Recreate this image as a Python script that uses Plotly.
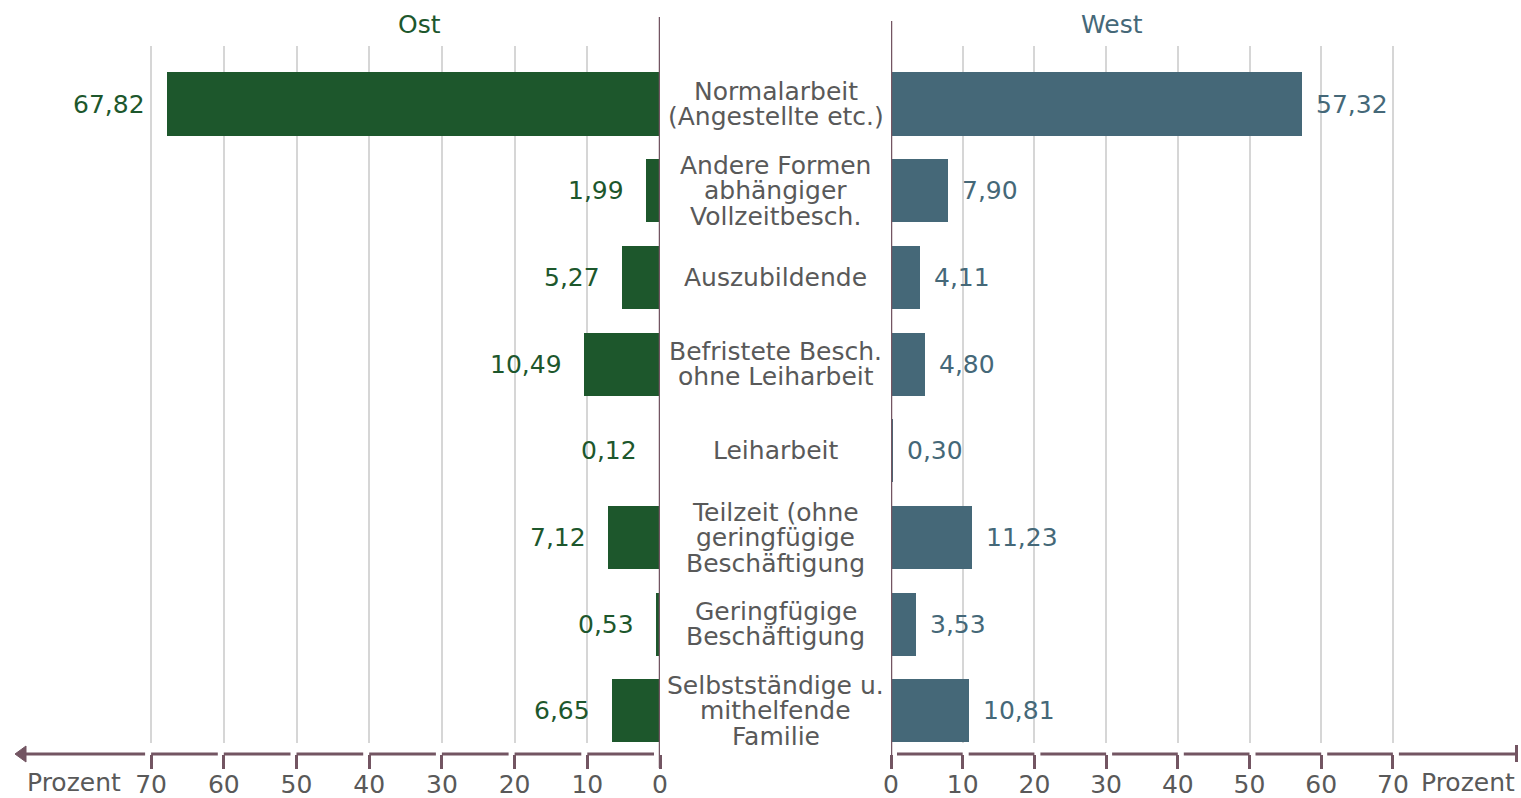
import plotly.graph_objects as go

# ---------------- data ----------------
categories = [
    "Normalarbeit<br>(Angestellte etc.)",
    "Andere Formen<br>abhängiger<br>Vollzeitbesch.",
    "Auszubildende",
    "Befristete Besch.<br>ohne Leiharbeit",
    "Leiharbeit",
    "Teilzeit (ohne<br>geringfügige<br>Beschäftigung",
    "Geringfügige<br>Beschäftigung",
    "Selbstständige u.<br>mithelfende<br>Familie",
]
ost_values = [67.82, 1.99, 5.27, 10.49, 0.12, 7.12, 0.53, 6.65]
west_values = [57.32, 7.90, 4.11, 4.80, 0.30, 11.23, 3.53, 10.81]
tick_values = [0, 10, 20, 30, 40, 50, 60, 70]
tick_labels = ["0", "10", "20", "30", "40", "50", "60", "70"]
axis_unit = "Prozent"
group_titles = ["Ost", "West"]

# ---------------- style ----------------
W, H = 1521, 798
GREEN = "#1d572c"
BLUE = "#456878"
MAUVE = "#735562"
GREY = "#595959"
GRID = "#d6d6d6"
FONT = "DejaVu Sans"
FS = 25


def px(x):
    return x / W


def py(y):
    return 1 - y / H


# pixel layout
L_ZERO, L_END, L_SCALE = 660, 15, 7.27
R_ZERO, R_END, R_SCALE = 891, 1518, 7.17
AXIS_Y = 754
GRID_TOP, GRID_BOT = 46, 743
ROW0, ROW_STEP = 104, 86.7

l_max = (L_ZERO - L_END) / L_SCALE
r_max = (R_END - R_ZERO) / R_SCALE
n = len(categories)
y_top = -(ROW0 - GRID_TOP) / ROW_STEP
y_bot = y_top + (GRID_BOT - GRID_TOP) / ROW_STEP

idx = list(range(n))

fig = go.Figure()
fig.add_trace(go.Bar(x=ost_values, y=idx, orientation="h", xaxis="x", yaxis="y",
                     marker=dict(color=GREEN, line=dict(width=0)), width=0.727,
                     hoverinfo="skip", showlegend=False))
fig.add_trace(go.Bar(x=west_values, y=idx, orientation="h", xaxis="x2", yaxis="y",
                     marker=dict(color=BLUE, line=dict(width=0)), width=0.727,
                     hoverinfo="skip", showlegend=False))

common_x = dict(
    tickmode="array", tickvals=tick_values, ticktext=tick_labels,
    showgrid=True, gridcolor=GRID, gridwidth=2, zeroline=False,
    showline=False, ticks="outside", ticklen=14, tickwidth=3, tickcolor=MAUVE,
    tickfont=dict(family=FONT, size=FS, color=GREY), ticklabelstandoff=-6,
    anchor="free", position=py(AXIS_Y), automargin=False, fixedrange=True,
)
fig.update_layout(
    width=W, height=H,
    margin=dict(l=0, r=0, t=0, b=0, pad=0),
    paper_bgcolor="white", plot_bgcolor="white",
    font=dict(family=FONT, size=FS, color=GREY),
    xaxis=dict(domain=[px(L_END), px(L_ZERO)], range=[l_max, 0], **common_x),
    xaxis2=dict(domain=[px(R_ZERO), px(R_END)], range=[0, r_max], **common_x),
    yaxis=dict(domain=[py(GRID_BOT), py(GRID_TOP)], range=[y_bot, y_top],
               showticklabels=False, showgrid=False, zeroline=False, showline=False,
               ticks="", fixedrange=True),
    bargap=0,
)

shapes = []
annotations = []

# axis line segments with gaps
gap_l = 6 / L_SCALE
gap_r = 6 / R_SCALE
for xr, gap, end in (("x", gap_l, l_max - 10 / L_SCALE), ("x2", gap_r, r_max)):
    for a, b in zip(tick_values[:-1], tick_values[1:]):
        shapes.append(dict(type="line", xref=xr, yref="paper", x0=a + gap, x1=b,
                           y0=py(AXIS_Y), y1=py(AXIS_Y), line=dict(color=MAUVE, width=3)))
    shapes.append(dict(type="line", xref=xr, yref="paper", x0=tick_values[-1] + gap, x1=end,
                       y0=py(AXIS_Y), y1=py(AXIS_Y), line=dict(color=MAUVE, width=3)))

# arrow head at left, end bar at right
shapes.append(dict(type="path", xref="paper", yref="paper",
                   path=f"M {px(L_END)},{py(AXIS_Y)} L {px(L_END + 11)},{py(AXIS_Y - 8)} "
                        f"L {px(L_END + 11)},{py(AXIS_Y + 8)} Z",
                   fillcolor=MAUVE, line=dict(color=MAUVE, width=1)))
shapes.append(dict(type="line", xref="paper", yref="paper", x0=px(R_END - 1.5), x1=px(R_END - 1.5),
                   y0=py(AXIS_Y - 9), y1=py(AXIS_Y + 8), line=dict(color=MAUVE, width=3)))

# central vertical lines
shapes.append(dict(type="line", xref="x", yref="paper", x0=0, x1=0,
                   y0=py(17), y1=py(AXIS_Y + 14), line=dict(color=MAUVE, width=2.5)))
shapes.append(dict(type="line", xref="x2", yref="paper", x0=0, x1=0,
                   y0=py(21), y1=py(AXIS_Y + 14), line=dict(color=MAUVE, width=2.5)))


def fmt(v):
    return f"{v:.2f}".replace(".", ",")


# value labels
for i, v in enumerate(ost_values):
    annotations.append(dict(x=v, y=i, xref="x", yref="y", text=fmt(v), showarrow=False,
                            xanchor="right", yanchor="middle", xshift=-20,
                            font=dict(family=FONT, size=FS, color=GREEN)))
for i, v in enumerate(west_values):
    annotations.append(dict(x=v, y=i, xref="x2", yref="y", text=fmt(v), showarrow=False,
                            xanchor="left", yanchor="middle", xshift=12,
                            font=dict(family=FONT, size=FS, color=BLUE)))

# category labels (tight line spacing)
center_x = px((L_ZERO + R_ZERO) / 2)
for i, cat in enumerate(categories):
    lines = cat.split("<br>")
    k = len(lines)
    for j, line in enumerate(lines):
        annotations.append(dict(x=center_x, y=i, xref="paper", yref="y", text=line,
                                showarrow=False, xanchor="center", yanchor="middle",
                                yshift=((k - 1) / 2 - j) * 25.5,
                                font=dict(family=FONT, size=FS, color=GREY)))

# titles
annotations.append(dict(x=px(419), y=py(24), xref="paper", yref="paper", text=group_titles[0],
                        showarrow=False, xanchor="center", yanchor="middle",
                        font=dict(family=FONT, size=FS, color=GREEN)))
annotations.append(dict(x=px(1112), y=py(24), xref="paper", yref="paper", text=group_titles[1],
                        showarrow=False, xanchor="center", yanchor="middle",
                        font=dict(family=FONT, size=FS, color=BLUE)))

# unit labels
annotations.append(dict(x=px(25), y=py(782), xref="paper", yref="paper", text=axis_unit,
                        showarrow=False, xanchor="left", yanchor="middle",
                        font=dict(family=FONT, size=FS, color=GREY)))
annotations.append(dict(x=px(1517), y=py(782), xref="paper", yref="paper", text=axis_unit,
                        showarrow=False, xanchor="right", yanchor="middle",
                        font=dict(family=FONT, size=FS, color=GREY)))

fig.update_layout(shapes=shapes, annotations=annotations)
fig.write_html("out.html", config={"displayModeBar": False},
               post_script="document.body.style.margin='0';document.body.style.overflow='hidden';")
